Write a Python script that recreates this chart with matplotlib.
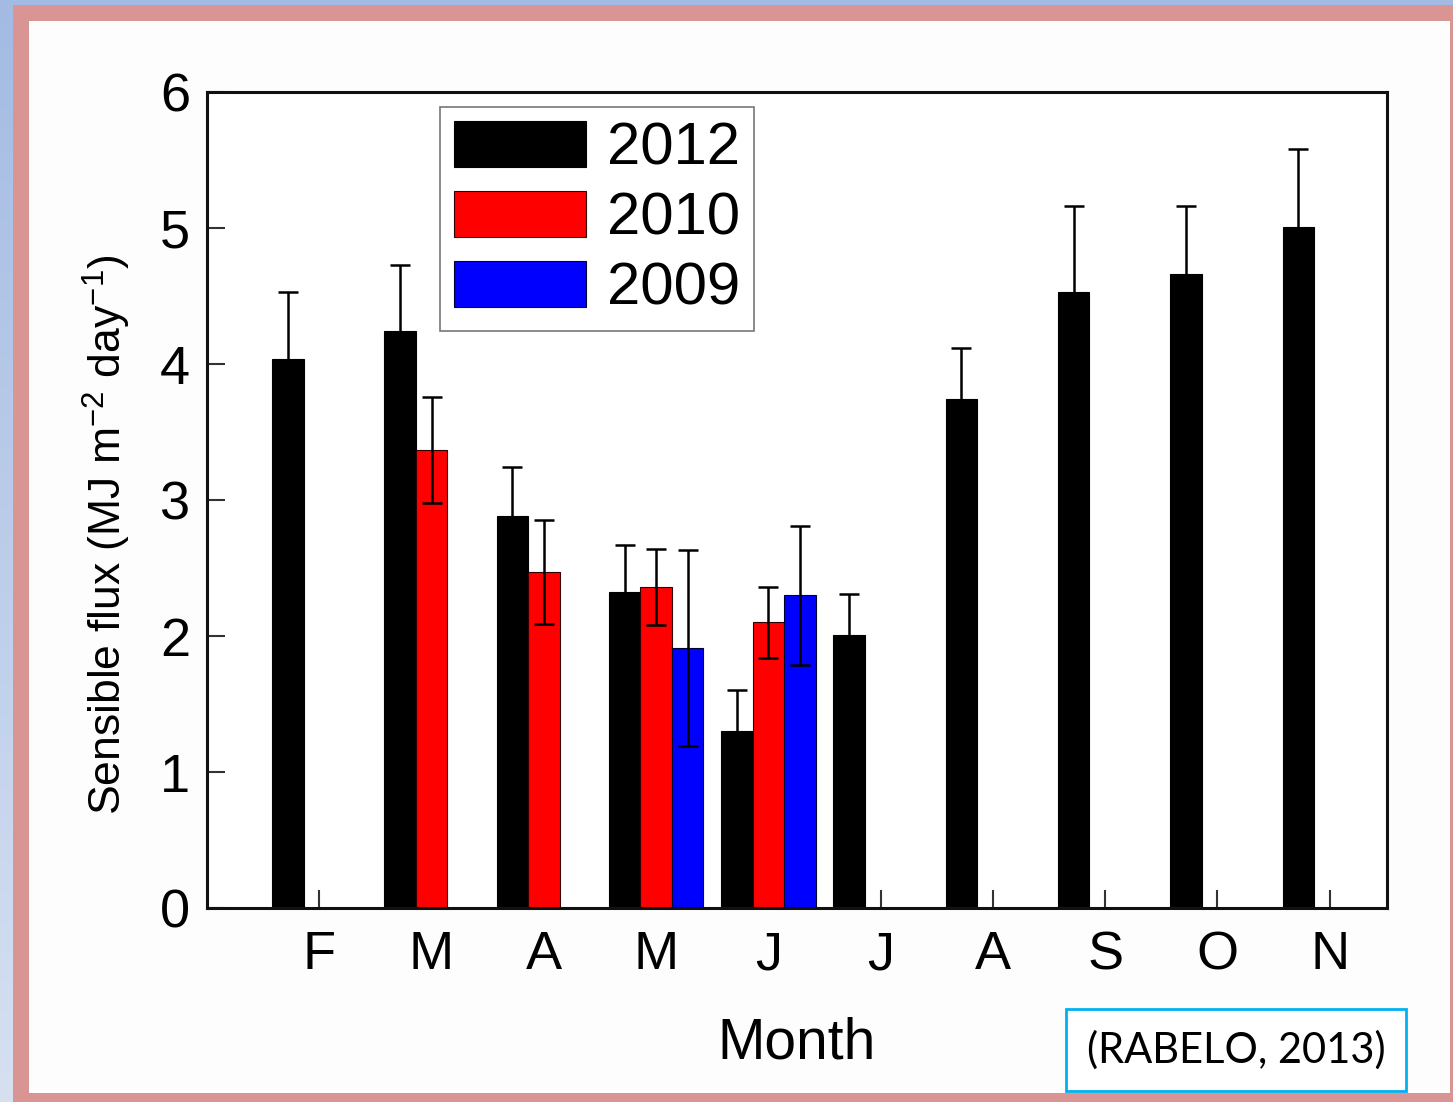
import numpy as np
import matplotlib
matplotlib.use("Agg")
import matplotlib.pyplot as plt
from matplotlib.patches import Rectangle

plt.rcParams['font.family'] = ['Liberation Sans', 'DejaVu Sans']
plt.rcParams['mathtext.default'] = 'regular'

months = ["F", "M", "A", "M", "J", "J", "A", "S", "O", "N"]

# Sensible heat flux (MJ m-2 day-1), monthly means and errors
flux_2012 = [4.04, 4.24, 2.88, 2.32, 1.30, 2.01, 3.74, 4.53, 4.66, 5.01]
err_2012 = [0.49, 0.49, 0.36, 0.35, 0.30, 0.30, 0.38, 0.63, 0.50, 0.57]

idx_2010 = [1, 2, 3, 4]
flux_2010 = [3.37, 2.47, 2.36, 2.10]
err_2010 = [0.39, 0.38, 0.28, 0.26]

idx_2009 = [3, 4]
flux_2009 = [1.91, 2.30]
err_2009 = [0.72, 0.51]

W, H, DPI = 1453, 1102, 100
fig = plt.figure(figsize=(W / DPI, H / DPI), dpi=DPI)
fig.patch.set_facecolor("#d99594")


def px_rect(x0, y0, x1, y1, color, z=-10):
    fig.patches.append(Rectangle((x0 / W, 1 - y1 / H), (x1 - x0) / W, (y1 - y0) / H,
                                 transform=fig.transFigure, facecolor=color,
                                 edgecolor="none", zorder=z))


# slide background: blue strips with a vertical gradient
grad_ax = fig.add_axes([0, 0, 13 / W, 1], zorder=-5)
grad = np.linspace(0, 1, 256)[:, None]
grad_ax.imshow(grad, aspect="auto", extent=[0, 1, 0, 1], origin="upper",
               cmap=matplotlib.colors.LinearSegmentedColormap.from_list(
                   "bg", ["#a3bbe3", "#d6e0f1"]))
grad_ax.axis("off")
px_rect(0, 0, W, 5, "#a3bbe3")
# white slide panel
px_rect(29, 21, 1450, 1093, "#fdfdfd")

ax = fig.add_axes([207 / W, 1 - 908 / H, (1387 - 207) / W, (908 - 92) / H], zorder=2)
ax.set_facecolor("white")

x = np.arange(len(months))
bw = 0.28
err_kw = dict(ecolor="black", elinewidth=1.8, capsize=7, capthick=1.8)

ax.bar(x - bw, flux_2012, bw, yerr=err_2012, color="black", edgecolor="black",
       linewidth=0.8, error_kw=err_kw, label="2012", zorder=2)
ax.bar(np.array(idx_2010), flux_2010, bw, yerr=err_2010, color="#ff0000",
       edgecolor="#300000", linewidth=0.8, error_kw=err_kw, label="2010", zorder=2)
ax.bar(np.array(idx_2009) + bw, flux_2009, bw, yerr=err_2009, color="#0000ff",
       edgecolor="#000030", linewidth=0.8, error_kw=err_kw, label="2009", zorder=2)

ax.set_xlim(-1.0, 9.51)
ax.set_ylim(0, 6)
ax.set_yticks(range(0, 7))
ax.set_xticks(x)
ax.set_xticklabels(months)
ax.tick_params(axis="both", direction="in", length=13, width=1.5, labelsize=39,
               color="#333333", zorder=3)
ax.tick_params(axis="x", pad=16)
ax.tick_params(axis="y", pad=12)
for s in ax.spines.values():
    s.set_linewidth(2.2)
    s.set_color("#111111")
    s.set_zorder(4)

ax.set_xlabel("Month", fontsize=41, labelpad=26)
fig.text(107 / W, 1 - 535 / H, r"Sensible flux (MJ m$^{-2}$ day$^{-1}$)",
         rotation=90, ha="center", va="center", fontsize=32)

leg = ax.legend(loc="upper left", bbox_to_anchor=((440 - 207) / (1387 - 207), 1 - (107 - 92) / (908 - 92)),
                fontsize=43, frameon=True, fancybox=False, handlelength=2.2,
                handleheight=0.8, handletextpad=0.35, labelspacing=0.24,
                borderpad=0.24, borderaxespad=0)
leg.get_frame().set_edgecolor("#555555")
leg.get_frame().set_linewidth(1.2)

# citation box
fig.text(1236 / W, 1 - 1050 / H, "(RABELO, 2013)", ha="center", va="center",
         fontsize=30, family=["Lato", "DejaVu Sans"],
         bbox=dict(boxstyle="square,pad=0.5", facecolor="white",
                   edgecolor="#00b0f0", linewidth=2))

fig.savefig("out.png", dpi=DPI, facecolor=fig.get_facecolor())
